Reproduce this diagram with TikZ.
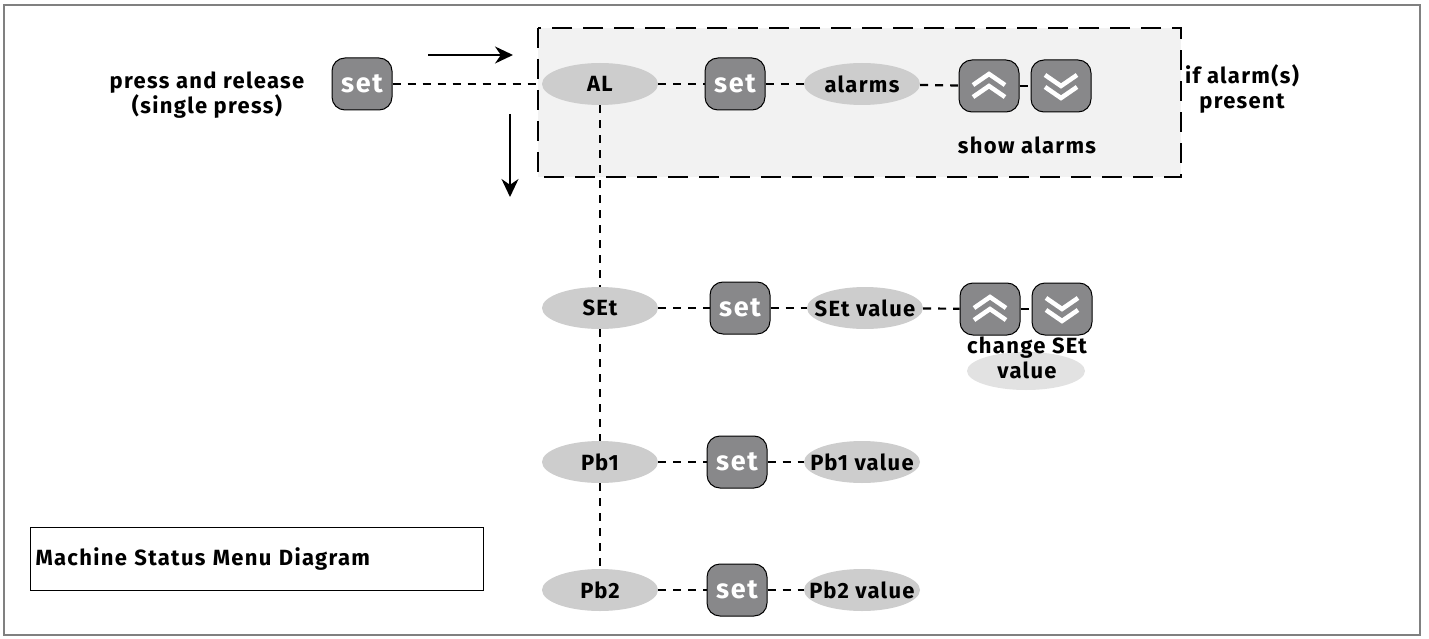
\documentclass[tikz,border=0pt]{standalone}
\usepackage{fontspec}
\setmainfont{Fira Sans}[LetterSpace=6]
\usetikzlibrary{arrows.meta,shapes.geometric}
\definecolor{keygray}{HTML}{88888A}
\definecolor{ovalgray}{HTML}{CDCDCD}
\definecolor{palegray}{HTML}{E2E2E2}
\definecolor{boxgray}{HTML}{F2F2F2}
\tikzset{
  key/.style={draw=black, line width=1pt, fill=keygray, rounded corners=13pt,
    minimum width=60pt, minimum height=52pt, inner sep=0pt,
    text=white, font=\fontsize{27}{27}\selectfont\bfseries},
  oval/.style={ellipse, fill=ovalgray, minimum width=116pt, minimum height=42pt,
    inner ysep=0pt, inner xsep=-18pt, font=\fontsize{22}{25}\selectfont\bfseries},
  link/.style={line width=2.2pt, dash pattern=on 8pt off 7pt},
  txt/.style={font=\fontsize{22}{25}\selectfont\bfseries, align=center},
  chev/.style={white, line width=4.5pt, miter limit=10},
  flow/.style={-{Stealth[length=18pt,width=17pt]}, line width=2pt},
}

\begin{document}
\begin{tikzpicture}[x=1pt,y=-1pt]
  \useasboundingbox (0,0) rectangle (1429,639);
  \draw [gray, line width=1.5pt] (4,5) rectangle (1420,635);
  \draw [fill=boxgray, line width=2.5pt, dash pattern=on 20pt off 11pt] (538,28) rectangle (1181,177);

  \coordinate (a0) at (428,55);
  \coordinate (a1) at (513,55);
  \coordinate (b0) at (510,114);
  \coordinate (b1) at (510,197);
  \draw [flow] (a0) -- (a1);
  \draw [flow] (b0) -- (b1);

  \node [txt] (press) at (207,95) {press and release\\(single press)};
  \node [key] (set0) at (362,84) {set};
  \node [oval] (AL) at (600,84) {AL};
  \node [key] (set1) at (735,84) {set};
  \node [oval] (alarms) at (862,84) {alarms};
  \node [key] (up1) at (989,86) {};
  \node [key] (dn1) at (1061,86) {};
  \node [txt] (showal) at (1027,145) {show alarms};
  \node [txt] (ifal) at (1242,89) {if alarm(s)\\present};

  \node [oval] (SEt) at (600,308) {SEt};
  \node [key] (set2) at (740,308) {set};
  \node [oval] (SEtv) at (865,308) {SEt value};
  \node [key] (up2) at (990,309) {};
  \node [key] (dn2) at (1062,309) {};
  \node [oval, fill=palegray, minimum width=118pt, minimum height=38pt] (chg) at (1026,371) {};
  \node [txt] (chgtxt) at (1027,358) {change SEt\\value};

  \node [oval] (Pb1) at (600,462) {Pb1};
  \node [key] (set3) at (737,462) {set};
  \node [oval] (Pb1v) at (862,462) {Pb1 value};

  \node [oval] (Pb2) at (600,590) {Pb2};
  \node [key] (set4) at (737,590) {set};
  \node [oval] (Pb2v) at (862,590) {Pb2 value};

  \node [draw, line width=1pt, anchor=west, text width=443pt, minimum height=63pt,
    inner xsep=5pt, align=left, font=\fontsize{22}{25}\selectfont\bfseries] (title) at (30,559) {Machine Status Menu Diagram};

  \draw [link] (set0) -- (AL);
  \draw [link] (AL) -- (set1);
  \draw [link] (set1) -- (alarms);
  \draw [link] (alarms) -- (up1);
  \draw [link] (up1) -- (dn1);
  \draw [link] (AL) -- (SEt);
  \draw [link] (SEt) -- (Pb1);
  \draw [link] (Pb1) -- (Pb2);
  \draw [link] (SEt) -- (set2);
  \draw [link] (set2) -- (SEtv);
  \draw [link] (SEtv) -- (up2);
  \draw [link] (up2) -- (dn2);
  \draw [link] (Pb1) -- (set3);
  \draw [link] (set3) -- (Pb1v);
  \draw [link] (Pb2) -- (set4);
  \draw [link] (set4) -- (Pb2v);

  \foreach \k in {up1,up2} {
    \draw [chev] ([shift={(-16,-1)}]\k.center) -- ([shift={(0,-12)}]\k.center) -- ([shift={(16,-1)}]\k.center);
    \draw [chev] ([shift={(-16,11)}]\k.center) -- ([shift={(0,0)}]\k.center) -- ([shift={(16,11)}]\k.center);
  }
  \foreach \k in {dn1,dn2} {
    \draw [chev] ([shift={(-16,-11)}]\k.center) -- ([shift={(0,0)}]\k.center) -- ([shift={(16,-11)}]\k.center);
    \draw [chev] ([shift={(-16,1)}]\k.center) -- ([shift={(0,12)}]\k.center) -- ([shift={(16,1)}]\k.center);
  }
\end{tikzpicture}
\end{document}
